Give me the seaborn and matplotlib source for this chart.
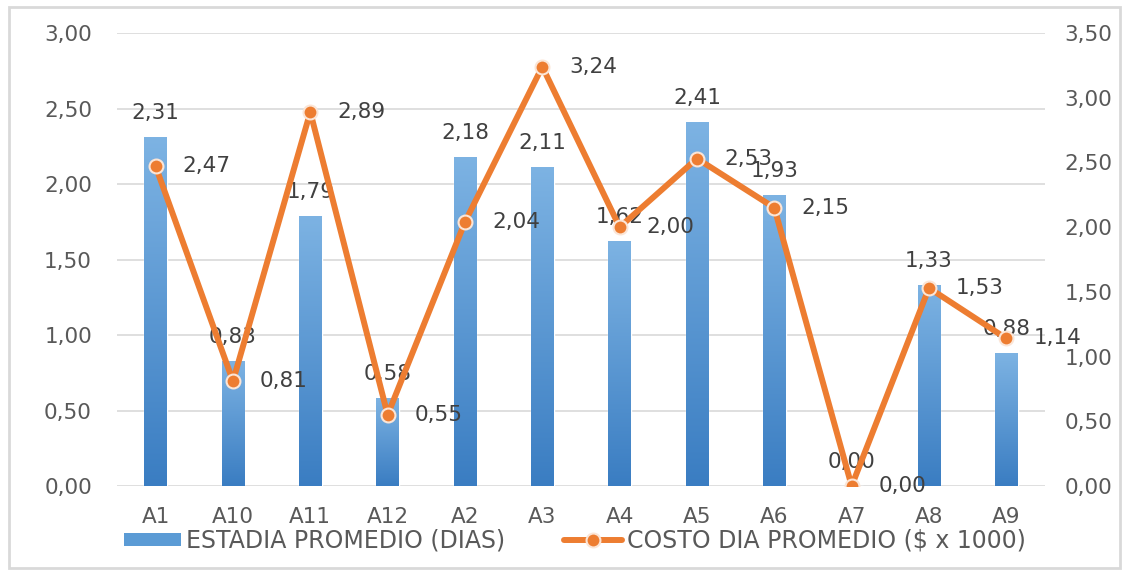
import numpy as np
import pandas as pd
import matplotlib
matplotlib.use("Agg")
import matplotlib.pyplot as plt
from matplotlib.colors import LinearSegmentedColormap
from matplotlib.patches import Patch, Rectangle
from matplotlib.lines import Line2D
from matplotlib.ticker import FuncFormatter, MultipleLocator
import seaborn as sns

categorias = ["A1", "A10", "A11", "A12", "A2", "A3", "A4", "A5", "A6", "A7", "A8", "A9"]
estadia = [2.31, 0.83, 1.79, 0.58, 2.18, 2.11, 1.62, 2.41, 1.93, 0.00, 1.33, 0.88]
costo = [2.47, 0.81, 2.89, 0.55, 2.04, 3.24, 2.00, 2.53, 2.15, 0.00, 1.53, 1.14]
serie_barras = "ESTADIA PROMEDIO (DIAS)"
serie_linea = "COSTO DIA PROMEDIO ($ x 1000)"

AZUL = "#5B9BD5"
AZUL_CLARO = "#7DB3E3"
AZUL_OSCURO = "#3A7DC2"
NARANJA = "#ED7D31"
BORDE_MARCA = "#FBE5D6"
GRIS_TXT = "#595959"
GRIS_LBL = "#404040"
GRIS_GRID = "#D9D9D9"
FS = 15.5
FS_LEY = 17

sns.set_theme(style="white")
plt.rcParams["font.family"] = ["DejaVu Sans"]

df = pd.DataFrame({"cat": categorias, "estadia": estadia, "costo": costo})

fig = plt.figure(figsize=(11.29, 5.74), dpi=100)
ax = fig.add_axes([0.1036, 0.1533, 0.8220, 0.7892])
ax2 = ax.twinx()

sns.barplot(data=df, x="cat", y="estadia", ax=ax, color=AZUL, width=0.29,
            saturation=1, zorder=2)

# vertical gradient inside each bar
cmap = LinearSegmentedColormap.from_list("barra", [AZUL_OSCURO, AZUL_CLARO])
grad = np.linspace(0, 1, 256).reshape(-1, 1)
for p in list(ax.patches):
    h = p.get_height()
    if h > 0:
        x0, w = p.get_x(), p.get_width()
        im = ax.imshow(grad, extent=[x0, x0 + w, 0, h], origin="lower",
                       aspect="auto", cmap=cmap, zorder=2.5)
        im.set_clip_path(p)

ax.set_xlim(-0.5, len(categorias) - 0.5)
ax.set_ylim(0, 3.0)
ax.yaxis.set_major_locator(MultipleLocator(0.5))
ax.grid(axis="y", color=GRIS_GRID, linewidth=1.2, zorder=0)
ax.set_axisbelow(True)

sns.pointplot(data=df, x="cat", y="costo", ax=ax2, color=NARANJA,
              markers="o", linewidth=4.3, markersize=10,
              markeredgecolor=BORDE_MARCA, markeredgewidth=1.5)
ax2.set_ylim(0, 3.5)
ax2.yaxis.set_major_locator(MultipleLocator(0.5))
ax2.grid(False)

coma = FuncFormatter(lambda v, _: f"{v:.2f}".replace(".", ","))
ax.yaxis.set_major_formatter(coma)
ax2.yaxis.set_major_formatter(coma)

for a in (ax, ax2):
    for s in a.spines.values():
        s.set_visible(False)
    a.set_xlabel("")
    a.set_ylabel("")
    a.tick_params(axis="both", length=0, labelsize=FS, colors=GRIS_TXT)
ax.tick_params(axis="y", pad=18)
ax2.tick_params(axis="y", pad=14)
ax.tick_params(axis="x", pad=15)

# data labels
for i, v in enumerate(estadia):
    ax.annotate(f"{v:.2f}".replace(".", ","), (i, v), xytext=(0, 24),
                textcoords="offset pixels", ha="center", va="center",
                fontsize=FS, color=GRIS_LBL, zorder=5)
for i, v in enumerate(costo):
    ax2.annotate(f"{v:.2f}".replace(".", ","), (i, v), xytext=(27, 0),
                 textcoords="offset pixels", ha="left", va="center",
                 fontsize=FS, color=GRIS_LBL, zorder=5)

handles = [
    Patch(facecolor=AZUL, edgecolor="none"),
    Line2D([0], [0], color=NARANJA, linewidth=4.3, marker="o", markersize=10,
           markeredgecolor=BORDE_MARCA, markeredgewidth=1.5),
]
fig.legend(handles, [serie_barras, serie_linea], loc="center",
           bbox_to_anchor=(0.509, 0.058), ncol=2, frameon=False,
           fontsize=FS_LEY, labelcolor=GRIS_TXT, handlelength=2.45,
           handleheight=0.5, handletextpad=0.2, columnspacing=2.5)

fig.patches.append(Rectangle((0.008, 0.010), 0.984, 0.978, transform=fig.transFigure,
                             fill=False, edgecolor=GRIS_GRID, linewidth=2))

fig.savefig("out.png", dpi=100, facecolor="white")
